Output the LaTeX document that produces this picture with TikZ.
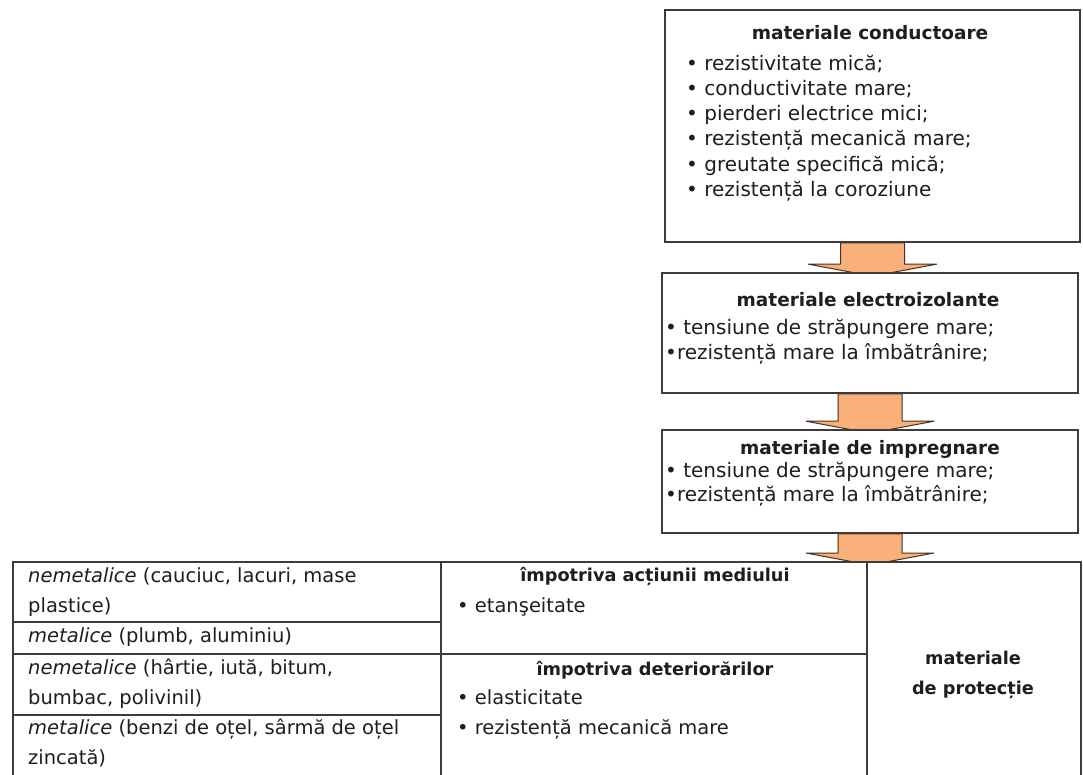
\documentclass[tikz,border=0pt]{standalone}
\usepackage{fontspec}
\setmainfont{DejaVu Sans}
\usepackage{tikz}
\usetikzlibrary{positioning, calc, backgrounds}
\definecolor{arrowFill}{HTML}{FAB07A}
\definecolor{arrowLine}{HTML}{4A3020}
\definecolor{frameGray}{HTML}{3C3C3C}
\definecolor{textGray}{HTML}{1E1E1E}

\begin{document}
\begin{tikzpicture}[
    x=1pt, y=-1pt,
    box/.style={draw=frameGray, line width=1.6pt, fill=white, inner sep=0pt},
    cell/.style={draw=frameGray, line width=1.6pt, anchor=north west,
                 inner sep=0pt},
    head/.style={font=\fontsize{18.5}{25}\selectfont\bfseries, text=textGray,
                 inner sep=0pt, align=center},
    lst/.style={font=\fontsize{20}{25.3}\selectfont, align=left,
                anchor=north west, inner sep=0pt, text=textGray},
    tbl/.style={font=\fontsize{19.5}{30}\selectfont, align=left,
                anchor=north west, inner sep=0pt, text=textGray},
    thead/.style={font=\fontsize{17.7}{30}\selectfont\bfseries, text=textGray,
                  inner sep=0pt, align=center},
    blockarrow/.style={fill=arrowFill, draw=arrowLine, line width=1pt,
                       line join=round},
]
\useasboundingbox (0,0) rectangle (1083,774);
\clip (0,0) rectangle (1083,774);

% Properties of the materials
\node[box, minimum width=415pt, minimum height=232pt] (conduct) at (872.5,126) {};
\node[head] (conducthead) at (870,33) {materiale conductoare};
\node[lst] (conductlist) at (686,54.5) {• rezistivitate mică;\\
    • conductivitate mare;\\
    • pierderi electrice mici;\\
    • rezistență mecanică mare;\\
    • greutate specifică mică;\\
    • rezistență la coroziune};

\node[box, minimum width=416pt, minimum height=120pt] (electro) at (870,333) {};
\node[head] (electrohead) at (868,300) {materiale electroizolante};
\node[lst] (electrolist) at (665,319) {• tensiune de străpungere mare;\\
    •rezistență mare la îmbătrânire;};

\node[box, minimum width=416pt, minimum height=103pt] (impreg) at (870,481.5) {};
\node[head] (impreghead) at (870,449) {materiale de impregnare};
\node[lst, font=\fontsize{20}{24}\selectfont] (impreglist) at (665,462)
    {• tensiune de străpungere mare;\\
    •rezistență mare la îmbătrânire;};

% Protection table
\node[cell, minimum width=428pt, minimum height=60pt] (nemet1) at (12,561) {};
\node[cell, minimum width=428pt, minimum height=32pt] (met1) at (12,621) {};
\node[cell, minimum width=428pt, minimum height=61pt] (nemet2) at (12,653) {};
\node[cell, minimum width=428pt, minimum height=80pt] (met2) at (12,714) {};
\node[cell, minimum width=426pt, minimum height=92pt] (mediu) at (440,561) {};
\node[cell, minimum width=426pt, minimum height=140pt] (deterior) at (440,653) {};
\node[cell, minimum width=214pt, minimum height=232pt] (protect) at (866,561) {};
\coordinate (tabletop) at (870,561);

\node[tbl] (nemet1txt) at (28,567) {\textit{nemetalice} (cauciuc, lacuri, mase\\plastice)};
\node[tbl] (met1txt) at (28,627) {\textit{metalice} (plumb, aluminiu)};
\node[tbl] (nemet2txt) at (28,659) {\textit{nemetalice} (hârtie, iută, bitum,\\bumbac, polivinil)};
\node[tbl] (met2txt) at (28,719) {\textit{metalice} (benzi de oțel, sârmă de oțel\\zincată)};

\node[thead] (mediuhead) at (655,577) {împotriva acțiunii mediului};
\node[tbl] (mediutxt) at (457,597) {• etanşeitate};
\node[thead] (deteriorhead) at (655,670) {împotriva deteriorărilor};
\node[tbl] (deteriortxt) at (457,689) {• elasticitate\\• rezistență mecanică mare};
\node[thead] (protecthead) at (973,675) {materiale\\de protecție};

% Block arrows
\begin{scope}[on background layer]
\foreach \a/\b in {conduct/electro, electro/impreg, impreg/tabletop}
  \filldraw[blockarrow] let \p1=(\a.south), \p2=(\b.north) in
    (\x1-32pt,\y1) -- (\x1-32pt,\y2+8pt) -- (\x1-64pt,\y2+8pt)
    -- (\x1,\y2-4pt) -- (\x1+64pt,\y2+8pt) -- (\x1+32pt,\y2+8pt)
    -- (\x1+32pt,\y1) -- cycle;
\fill[white] (nemet1.north west) rectangle (protect.south east);
\end{scope}
\end{tikzpicture}
\end{document}
